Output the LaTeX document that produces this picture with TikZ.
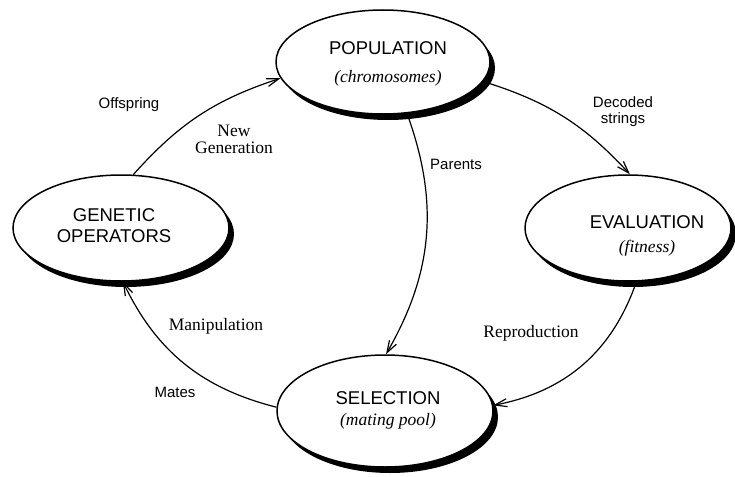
\documentclass[tikz,border=0pt]{standalone}
\usepackage{fontspec}
\setmainfont{Liberation Serif}
\setsansfont{Liberation Sans}
\usetikzlibrary{shapes.geometric,shadows,arrows.meta}

\tikzset{
  stage/.style={ellipse, draw, line width=1.5pt, fill=white, inner sep=0pt,
    drop shadow={shadow xshift=5pt, shadow yshift=-6pt, fill=black, opacity=1}},
  stagename/.style={align=center, font=\sffamily\fontsize{18.5}{21}\selectfont},
  flow/.style={line width=1.2pt, -{Straight Barb[length=12pt,width=8pt]}},
  tag/.style={align=center, font=\sffamily\fontsize{15}{16}\selectfont},
  note/.style={align=center, font=\fontsize{17.5}{17}\selectfont},
}
\newcommand{\aside}[1]{{\rmfamily\itshape\fontsize{17.5}{21}\selectfont #1}}

\begin{document}
\begin{tikzpicture}[x=1pt,y=-1pt]
\useasboundingbox (0,0) rectangle (735,476);
% the four stages of the cycle
\node[stage, minimum width=214pt, minimum height=104pt] (pop) at (383,62) {};
\node[stage, minimum width=216pt, minimum height=106pt] (gen) at (121,228) {};
\node[stage, minimum width=206pt, minimum height=106pt] (eval) at (628,228) {};
\node[stage, minimum width=216pt, minimum height=112pt] (sel) at (385,411) {};
\node[stagename] (pop-name) at (388,64) {POPULATION\\[6.5pt]\aside{(chromosomes)}};
\node[stagename] (gen-name) at (114,226) {GENETIC\\OPERATORS};
\node[stagename] (eval-name) at (647,236) {EVALUATION\\[3.5pt]\aside{(fitness)}};
\node[stagename] (sel-name) at (388,410) {SELECTION\\\aside{(mating pool)}};
% connectors
\path[flow] (gen.77) edge[bend left=15] (pop.189);
\path[flow] (pop.349) edge[bend left=15] (eval.88);
\path[flow] (eval.279) edge[bend left=30] (sel.3);
\path[flow] (pop.295) edge[bend left=25] (sel.89);
\path[flow] (sel.178) edge[bend left=25] (gen.272);
% labels
\node[tag] (offspring) at (129,105) {Offspring};
\node[note] (newgen) at (234,139) {New\\Generation};
\node[tag] (decoded) at (623,112) {Decoded\\strings};
\node[tag] (parents) at (456,164) {Parents};
\node[note] (repro) at (531,333) {Reproduction};
\node[note] (manip) at (216,326) {Manipulation};
\node[tag] (mates) at (175,392) {Mates};
\end{tikzpicture}
\end{document}
